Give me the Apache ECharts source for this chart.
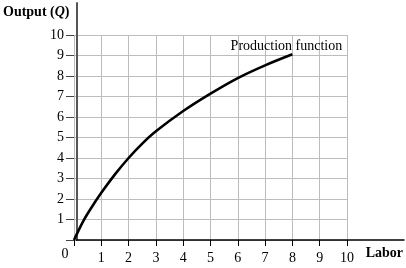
<!DOCTYPE html>
<html>
<head>
<meta charset="utf-8">
<script src="https://cdn.jsdelivr.net/npm/echarts@6/dist/echarts.min.js"></script>
<style>
html,body{margin:0;padding:0;background:#fff;}
#chart{width:406px;height:268px;}
</style>
</head>
<body>
<div id="chart"></div>
<script>
// Labor input (x) and output Q (y)
var labor  = [0, 0.33, 0.6, 1, 1.5, 2, 2.5, 3, 4, 5, 6, 7, 8];
var output = [0, 0.9, 1.5, 2.3, 3.2, 4.0, 4.7, 5.3, 6.29, 7.14, 7.9, 8.52, 9.06];
var xTicks = [0, 1, 2, 3, 4, 5, 6, 7, 8, 9, 10];
var yTicks = [0, 1, 2, 3, 4, 5, 6, 7, 8, 9, 10];
var curveName = 'Production function';
var xTitle = 'Labor';
var yTitle = 'Output ({q|Q})';

var FONT = '"Liberation Serif", "Times New Roman", serif';

var data = labor.map(function (l, i) { return [l, output[i]]; });
var last = data[data.length - 1];

var chart = echarts.init(document.getElementById('chart'), null, { renderer: 'canvas' });
chart.setOption({
  animation: false,
  backgroundColor: '#fff',
  grid: [
    { left: 74, right: 59, top: 35, bottom: 28 },
    { left: 74, right: 0, top: 3, bottom: 28 }
  ],
  xAxis: [
    {
      gridIndex: 0, type: 'value', min: xTicks[0], max: xTicks[xTicks.length - 1], interval: 1,
      axisLine: { show: false },
      axisTick: { show: true, length: 6, inside: false, lineStyle: { color: '#000', width: 1 } },
      axisLabel: {
        margin: 11, color: '#000', fontFamily: FONT, fontSize: 14,
        formatter: function (v) { return v === 0 ? '{o|0}' : String(v); },
        rich: { o: { padding: [0, 18, 0, 0], lineHeight: 6, fontFamily: FONT, fontSize: 14, color: '#000' } }
      },
      splitLine: { show: true, lineStyle: { color: '#bdbdbd', width: 1 } }
    },
    {
      gridIndex: 1, type: 'value', min: 0, max: 1,
      axisLine: { show: true, lineStyle: { color: '#000', width: 1.5 } },
      axisTick: { show: false }, axisLabel: { show: false }, splitLine: { show: false },
      name: '{l|' + xTitle + '}', nameLocation: 'end', nameGap: -1,
      nameTextStyle: {
        align: 'right', verticalAlign: 'top',
        color: '#000', fontFamily: FONT, fontSize: 14, fontWeight: 'bold',
        rich: { l: { padding: [6, 0, 0, 0], color: '#000', fontFamily: FONT, fontSize: 14, fontWeight: 'bold' } }
      }
    }
  ],
  yAxis: [
    {
      gridIndex: 0, type: 'value', min: yTicks[0], max: yTicks[yTicks.length - 1], interval: 1,
      axisLine: { show: false },
      axisTick: { show: true, length: 8, inside: false, lineStyle: { color: '#444', width: 1 } },
      axisLabel: {
        margin: 10, color: '#000', fontFamily: FONT, fontSize: 14,
        formatter: function (v) { return v === 0 ? '' : String(v); }
      },
      splitLine: { show: true, lineStyle: { color: '#bdbdbd', width: 1 } }
    },
    {
      gridIndex: 1, type: 'value', min: 0, max: 1,
      axisLine: { show: true, lineStyle: { color: '#555', width: 2 } },
      axisTick: { show: false }, axisLabel: { show: false }, splitLine: { show: false },
      name: yTitle, nameLocation: 'end', nameGap: -9,
      nameTextStyle: {
        align: 'right', verticalAlign: 'middle', padding: [0, 7, 0, 0],
        color: '#000', fontFamily: FONT, fontSize: 14, fontWeight: 'bold',
        rich: { q: { fontStyle: 'italic', fontWeight: 'bold', fontFamily: FONT, fontSize: 14, color: '#000' } }
      }
    }
  ],
  series: [
    {
      type: 'line', xAxisIndex: 0, yAxisIndex: 0, data: data,
      smooth: 0.35, showSymbol: false, symbol: 'none',
      lineStyle: { color: '#000', width: 2.6 },
      z: 5,
      markPoint: {
        symbol: 'circle', symbolSize: 0, silent: true,
        data: [{ coord: last }],
        label: {
          show: true, formatter: curveName, position: 'top', distance: 1,
          offset: [-6, 0], color: '#000', fontFamily: FONT, fontSize: 14
        }
      }
    }
  ]
});
</script>
</body>
</html>
